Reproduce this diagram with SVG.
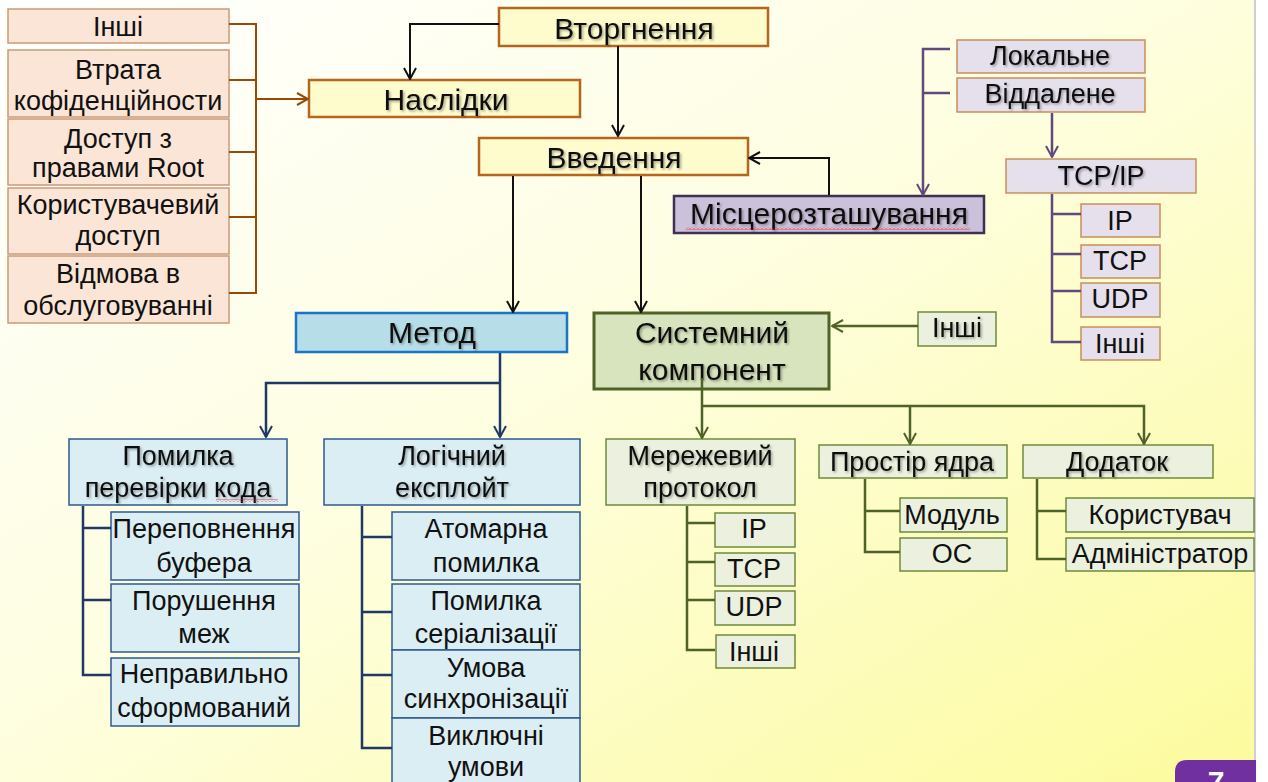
<svg xmlns="http://www.w3.org/2000/svg" width="1268" height="782" viewBox="0 0 1268 782">
<defs>
<linearGradient id="bg" x1="0" y1="0" x2="1" y2="1">
<stop offset="0" stop-color="#ffffff"/>
<stop offset="0.45" stop-color="#fefee2"/>
<stop offset="1" stop-color="#fcfb9c"/>
</linearGradient>
<filter id="sh" x="-10%" y="-30%" width="120%" height="160%">
<feDropShadow dx="1.5" dy="1.5" stdDeviation="0.8" flood-color="#000" flood-opacity="0.35"/>
</filter>
<pattern id="wavy" width="4" height="3" patternUnits="userSpaceOnUse">
<path d="M0,2.5 L2,0.5 L4,2.5" fill="none" stroke="#e02020" stroke-width="0.8"/>
</pattern>
<marker id="aBrown" viewBox="0 0 14 14" refX="13" refY="7" markerWidth="14" markerHeight="14" markerUnits="userSpaceOnUse" orient="auto"><path d="M2,1 L13,7 L2,13" fill="none" stroke="#984807" stroke-width="2"/></marker>
<marker id="aBlack" viewBox="0 0 14 14" refX="13" refY="7" markerWidth="14" markerHeight="14" markerUnits="userSpaceOnUse" orient="auto"><path d="M2,1 L13,7 L2,13" fill="none" stroke="#111" stroke-width="2"/></marker>
<marker id="aPurple" viewBox="0 0 14 14" refX="13" refY="7" markerWidth="14" markerHeight="14" markerUnits="userSpaceOnUse" orient="auto"><path d="M2,1 L13,7 L2,13" fill="none" stroke="#604a7b" stroke-width="2"/></marker>
<marker id="aNavy" viewBox="0 0 14 14" refX="13" refY="7" markerWidth="14" markerHeight="14" markerUnits="userSpaceOnUse" orient="auto"><path d="M2,1 L13,7 L2,13" fill="none" stroke="#1f3864" stroke-width="2"/></marker>
<marker id="aGreen" viewBox="0 0 14 14" refX="13" refY="7" markerWidth="14" markerHeight="14" markerUnits="userSpaceOnUse" orient="auto"><path d="M2,1 L13,7 L2,13" fill="none" stroke="#4f6228" stroke-width="2"/></marker>
</defs>
<style>
text{font-family:"Liberation Sans",Arial,sans-serif;font-size:27px;fill:#111;text-anchor:middle}
.t{font-size:30px;filter:url(#sh)}
.s{filter:url(#sh)}
.peach{fill:#fbe5d6;stroke:#c99a78;stroke-width:1.5}
.yel{fill:#fefbcc;stroke:#b5651d;stroke-width:2.5}
.lav{fill:#ccc1da;stroke:#403152;stroke-width:2.5}
.lil{fill:#e5e0ec;stroke:#c98f5c;stroke-width:1.5}
.met{fill:#b7dee8;stroke:#1b75c4;stroke-width:2.5}
.lb{fill:#dbeef4;stroke:#2e5a8e;stroke-width:1.5}
.sys{fill:#d7e4bd;stroke:#4f6228;stroke-width:3}
.lg{fill:#ebf1de;stroke:#6f8a3a;stroke-width:1.5}
.c{fill:none;stroke-width:2}
.cb{stroke:#984807}.ck{stroke:#111}.cp{stroke:#604a7b;stroke-width:2.5}.cn{stroke:#1f3864;stroke-width:2.5}.cg{stroke:#4f6228;stroke-width:2.5}
</style>
<rect x="0" y="0" width="1268" height="782" fill="url(#bg)"/>
<rect x="1256" y="0" width="12" height="782" fill="#ffffff"/>
<rect x="1254" y="0" width="2" height="782" fill="#cfcfcf"/>

<g id="n-inshi-left"><rect class="peach" x="8" y="9" width="221" height="34"/><text x="118" y="36">Інші</text></g>
<g id="n-vtrata"><rect class="peach" x="8" y="50" width="221" height="67"/><text x="118" y="79">Втрата</text><text x="118" y="110">кофіденційности</text></g>
<g id="n-dostup"><rect class="peach" x="8" y="119" width="221" height="66"/><text x="118" y="148">Доступ з</text><text x="118" y="177">правами Root</text></g>
<g id="n-korist"><rect class="peach" x="8" y="188" width="221" height="66"/><text x="118" y="214">Користувачевий</text><text x="118" y="245">доступ</text></g>
<g id="n-vidmova"><rect class="peach" x="8" y="256" width="221" height="67"/><text x="118" y="283">Відмова в</text><text x="118" y="315">обслуговуванні</text></g>

<g id="n-vtorg"><rect class="yel" x="499" y="8" width="269" height="38"/><text class="t" x="634" y="39">Вторгнення</text></g>
<g id="n-nasl"><rect class="yel" x="309" y="80" width="271" height="37"/><text class="t" x="446" y="110">Наслідки</text></g>
<g id="n-vved"><rect class="yel" x="479" y="138" width="269" height="37"/><text class="t" x="614" y="168">Введення</text></g>

<g id="n-misce"><rect class="lav" x="674" y="196" width="310" height="37"/><text class="t" x="829" y="224">Місцерозташування</text><rect x="686" y="227" width="284" height="3" fill="url(#wavy)"/></g>
<g id="n-lokal"><rect class="lil" x="957" y="40" width="188" height="33"/><text class="s" x="1050" y="65">Локальне</text></g>
<g id="n-viddal"><rect class="lil" x="957" y="78" width="188" height="34"/><text class="s" x="1050" y="103">Віддалене</text></g>
<g id="n-tcpip"><rect class="lil" x="1006" y="159" width="190" height="34"/><text class="s" x="1101" y="185">TCP/IP</text></g>
<g id="n-ip1"><rect class="lil" x="1081" y="204" width="79" height="33"/><text x="1120" y="230">IP</text></g>
<g id="n-tcp1"><rect class="lil" x="1081" y="245" width="79" height="33"/><text x="1120" y="270">TCP</text></g>
<g id="n-udp1"><rect class="lil" x="1081" y="283" width="79" height="34"/><text x="1120" y="308">UDP</text></g>
<g id="n-inshi1"><rect class="lil" x="1081" y="327" width="79" height="33"/><text x="1120" y="353">Інші</text></g>

<g id="n-metod"><rect class="met" x="296" y="313" width="271" height="39"/><text class="t" x="432" y="343">Метод</text></g>
<g id="n-pomylka"><rect class="lb" x="69" y="439" width="218" height="66"/><text class="s" x="178" y="465">Помилка</text><text class="s" x="178" y="497">перевірки кода</text><rect x="216" y="499" width="62" height="3" fill="url(#wavy)"/></g>
<g id="n-logich"><rect class="lb" x="324" y="439" width="256" height="66"/><text class="s" x="452" y="465">Логічний</text><text class="s" x="452" y="497">експлойт</text></g>
<g id="n-perep"><rect class="lb" x="111" y="512" width="188" height="68"/><text x="204" y="538">Переповнення</text><text x="204" y="572">буфера</text></g>
<g id="n-porush"><rect class="lb" x="111" y="584" width="188" height="68"/><text x="204" y="610">Порушення</text><text x="204" y="643">меж</text></g>
<g id="n-neprav"><rect class="lb" x="111" y="658" width="188" height="68"/><text x="204" y="683">Неправильно</text><text x="204" y="717">сформований</text></g>
<g id="n-atom"><rect class="lb" x="392" y="512" width="188" height="68"/><text x="486" y="538">Атомарна</text><text x="486" y="572">помилка</text></g>
<g id="n-serial"><rect class="lb" x="392" y="584" width="188" height="66"/><text x="486" y="610">Помилка</text><text x="486" y="643">серіалізації</text></g>
<g id="n-umova"><rect class="lb" x="392" y="650" width="188" height="68"/><text x="486" y="677">Умова</text><text x="486" y="708">синхронізації</text></g>
<g id="n-vykl"><rect class="lb" x="392" y="718" width="188" height="72"/><text x="486" y="745">Виключні</text><text x="486" y="776">умови</text></g>

<g id="n-system"><rect class="sys" x="594" y="313" width="235" height="76"/><text class="t" x="712" y="343">Системний</text><text class="t" x="712" y="380">компонент</text></g>
<g id="n-inshi-g"><rect class="lg" x="918" y="312" width="78" height="34"/><text class="s" x="957" y="337">Інші</text></g>
<g id="n-merezh"><rect class="lg" x="606" y="439" width="189" height="66"/><text class="s" x="700" y="465">Мережевий</text><text class="s" x="700" y="497">протокол</text></g>
<g id="n-prostir"><rect class="lg" x="819" y="445" width="188" height="33"/><text class="s" x="912" y="471">Простір ядра</text></g>
<g id="n-dodatok"><rect class="lg" x="1023" y="445" width="190" height="33"/><text class="s" x="1117" y="471">Додаток</text></g>
<g id="n-ip2"><rect class="lg" x="715" y="513" width="80" height="34"/><text x="754" y="538">IP</text></g>
<g id="n-tcp2"><rect class="lg" x="715" y="553" width="80" height="33"/><text x="754" y="578">TCP</text></g>
<g id="n-udp2"><rect class="lg" x="715" y="591" width="80" height="34"/><text x="754" y="616">UDP</text></g>
<g id="n-inshi2"><rect class="lg" x="716" y="635" width="79" height="33"/><text x="754" y="661">Інші</text></g>
<g id="n-modul"><rect class="lg" x="900" y="498" width="107" height="34"/><text x="952" y="524">Модуль</text></g>
<g id="n-os"><rect class="lg" x="900" y="538" width="107" height="33"/><text x="952" y="563">ОС</text></g>
<g id="n-korystuvach"><rect class="lg" x="1066" y="498" width="188" height="34"/><text x="1160" y="524">Користувач</text></g>
<g id="n-admin"><rect class="lg" x="1066" y="538" width="188" height="33"/><text x="1160" y="563">Адміністратор</text></g>

<g id="connectors">
<path class="c cb" d="M229,24 H256 V293 H229 M229,80 H256 M229,152 H256 M229,217 H256"/>
<path class="c cb" d="M256,99 H308" marker-end="url(#aBrown)"/>
<path class="c ck" d="M499,24 H410 V79" marker-end="url(#aBlack)"/>
<path class="c ck" d="M618,46 V136" marker-end="url(#aBlack)"/>
<path class="c ck" d="M513,176 V312" marker-end="url(#aBlack)"/>
<path class="c ck" d="M641,176 V312" marker-end="url(#aBlack)"/>
<path class="c ck" d="M829,195 V158 H749" marker-end="url(#aBlack)"/>
<path class="c cp" d="M950,93 H923"/>
<path class="c cp" d="M950,49 H923 V195" marker-end="url(#aPurple)"/>
<path class="c cp" d="M1052,113 V157" marker-end="url(#aPurple)"/>
<path class="c cp" d="M1052,194 V342 H1081 M1052,214 H1081 M1052,254 H1081 M1052,291 H1081"/>
<path class="c cn" d="M500,353 V437" marker-end="url(#aNavy)"/>
<path class="c cn" d="M500,383 H266 V437" marker-end="url(#aNavy)"/>
<path class="c cn" d="M83,506 V675 H111 M83,528 H111 M83,600 H111"/>
<path class="c cn" d="M362,506 V748 H392 M362,537 H392 M362,612 H392 M362,675 H392"/>
<path class="c cg" d="M918,326 H832" marker-end="url(#aGreen)"/>
<path class="c cg" d="M702,378 V438" marker-end="url(#aGreen)"/>
<path class="c cg" d="M702,406 H1144 V444" marker-end="url(#aGreen)"/>
<path class="c cg" d="M910,406 V444" marker-end="url(#aGreen)"/>
<path class="c cg" d="M687,506 V650 H715 M687,523 H715 M687,562 H715 M687,600 H715"/>
<path class="c cg" d="M865,479 V552 H900 M865,511 H900"/>
<path class="c cg" d="M1037,479 V559 H1066 M1037,511 H1066"/>
</g>

<g id="badge"><path d="M1175,782 V772 Q1175,760 1187,760 H1256 V782 Z" fill="#7030a0"/><text x="1216" y="792" style="fill:#fff;font-weight:bold;font-size:30px">7</text></g>
</svg>
